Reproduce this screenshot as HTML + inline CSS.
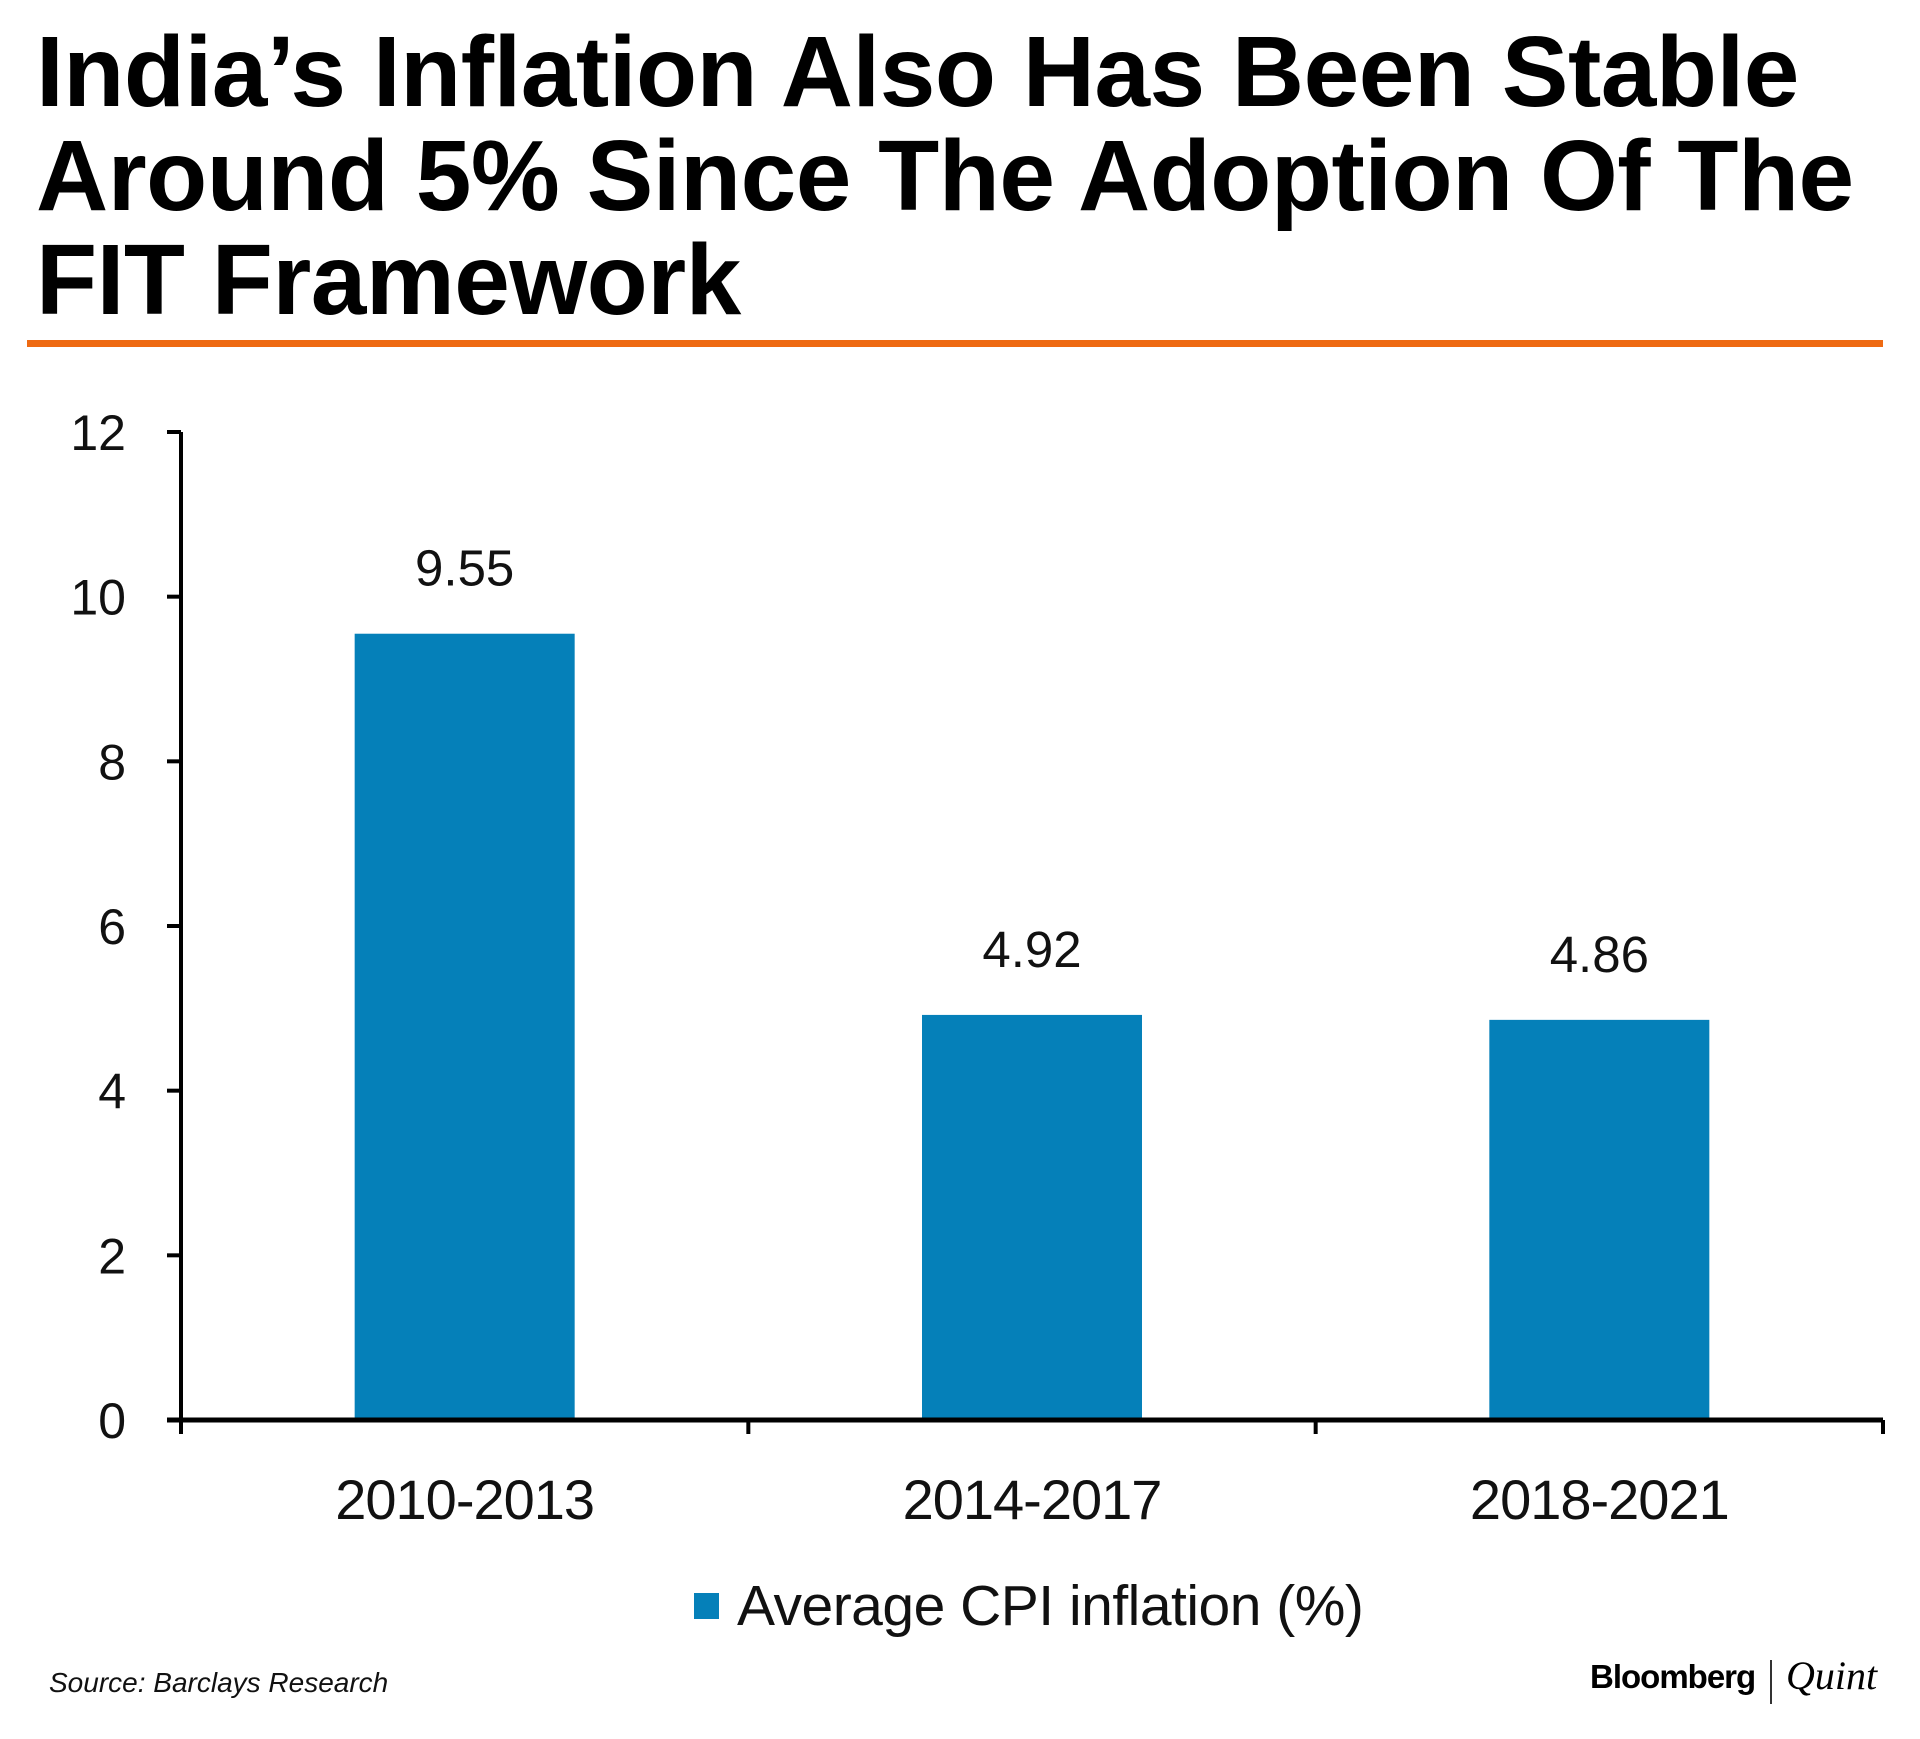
<!DOCTYPE html>
<html><head><meta charset="utf-8"><style>
body{margin:0;width:1920px;height:1739px;background:#fff;overflow:hidden;position:relative;font-family:"Liberation Sans",sans-serif}
#title{position:absolute;left:36px;top:20px;font-size:100px;font-weight:bold;line-height:104px;color:#000;letter-spacing:-0.5px;margin:0}
#rule{position:absolute;left:27px;top:340px;width:1856px;height:7px;background:#ee6a12}
#src{position:absolute;left:49px;top:1667px;font-size:28px;font-style:italic;color:#111}
#brand{position:absolute;left:1590px;top:1658px;font-size:33px;font-weight:bold;color:#000;letter-spacing:-1px}
#sep{position:absolute;left:1770px;top:1660px;width:2px;height:44px;background:#333}
#quint{position:absolute;left:1786px;top:1652px;font-size:40px;font-style:italic;font-family:"Liberation Serif",serif}
</style></head><body>
<h1 id="title">India’s Inflation Also Has Been Stable<br>Around 5% Since The Adoption Of The<br>FIT Framework</h1>
<div id="rule"></div>
<svg id="chart" width="1920" height="1739" style="position:absolute;left:0;top:0"></svg>
<div id="src">Source: Barclays Research</div>
<div id="brand">Bloomberg</div>
<div id="sep"></div>
<div id="quint">Quint</div>
<script>
const categories=["2010-2013","2014-2017","2018-2021"];
const values=[9.55,4.92,4.86];
const yTicks=[0,2,4,6,8,10,12];
const NS="http://www.w3.org/2000/svg";
const svg=document.getElementById('chart');
const x0=181,x1=1883,yBase=1420,yTop=432,yMax=12;
const y=v=>yBase-(yBase-yTop)*v/yMax;
const band=(x1-x0)/categories.length;
const xc=i=>x0+band*(i+0.5);
function el(t,a){const e=document.createElementNS(NS,t);for(const k in a)e.setAttribute(k,a[k]);svg.appendChild(e);return e;}
yTicks.forEach(t=>{
 const l=el('line',{x1:x0-14,x2:x0,y1:y(t),y2:y(t),stroke:'#000','stroke-width':4});
 
 
 const tx=el('text',{x:x0-55,y:y(t)+18,'text-anchor':'end','font-size':50,fill:'#111','font-family':'Liberation Sans, sans-serif'});
 tx.textContent=t;
 
 
});
values.forEach((v,i)=>{
 const w=220;
 const r=el('rect',{x:xc(i)-w/2,y:y(v),width:w,height:yBase-y(v),fill:'#0580b9'});
 
 
 const t=el('text',{x:xc(i),y:y(v)-48,'text-anchor':'middle','font-size':51,fill:'#111','font-family':'Liberation Sans, sans-serif'});
 t.textContent=v.toFixed(2);
 
 
 const c=el('text',{x:xc(i),y:1519,'text-anchor':'middle','font-size':56,fill:'#111','font-family':'Liberation Sans, sans-serif','letter-spacing':'-1'});
 c.textContent=categories[i];
 
 
});
for(let i=0;i<=categories.length;i++){
 const tk=el('line',{x1:x0+band*i,x2:x0+band*i,y1:yBase,y2:yBase+14,stroke:'#000','stroke-width':4});
 
 
}
const ya=el('line',{x1:x0,x2:x0,y1:yTop,y2:yBase,stroke:'#000','stroke-width':4});


const xa=el('line',{x1:x0-14,x2:x1,y1:yBase,y2:yBase,stroke:'#000','stroke-width':5});


const lg=el('rect',{x:694,y:1593,width:25,height:26,fill:'#0580b9'});


const lt=el('text',{x:737,y:1625,'font-size':57,fill:'#111','font-family':'Liberation Sans, sans-serif','letter-spacing':'-0.5'});
lt.textContent='Average CPI inflation (%)';


</script>
</body></html>
